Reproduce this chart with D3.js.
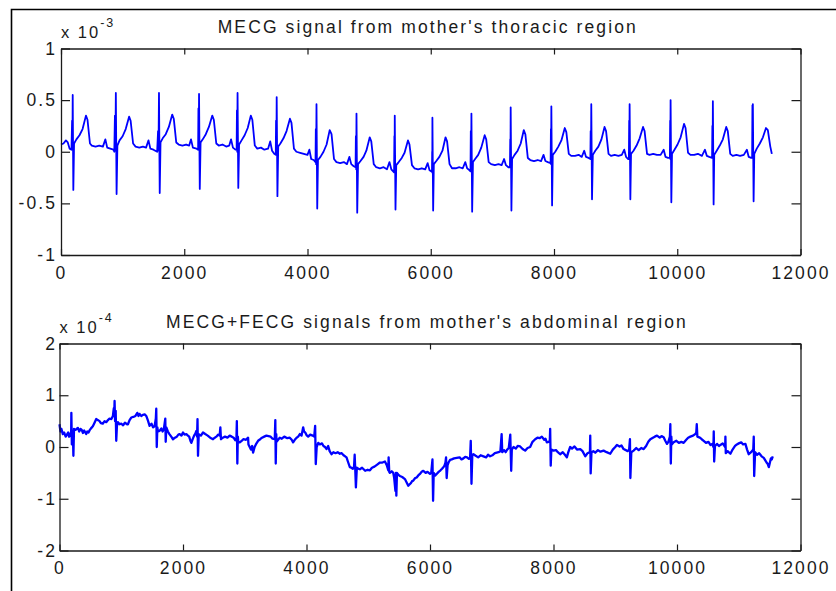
<!DOCTYPE html>
<html>
<head>
<meta charset="utf-8">
<script src="https://cdn.jsdelivr.net/npm/d3@7"></script>
<style>
  html, body { margin: 0; padding: 0; background: #fff; }
  svg { display: block; }
  text { font-family: "Liberation Sans", Arial, sans-serif; fill: #1a1a1a; }
</style>
</head>
<body>
<svg id="chart" width="836" height="591"></svg>
<script>
// ---------- DATA ----------
const xTicks = [0, 2000, 4000, 6000, 8000, 10000, 12000];
const topYTicks = [-1, -0.5, 0, 0.5, 1];
const botYTicks = [-2, -1, 0, 1, 2];
const topTitle = "MECG signal from mother's thoracic region";
const botTitle = "MECG+FECG signals from mother's abdominal region";
const topExponent = "-3";
const botExponent = "-4";

// thoracic MECG, sample index vs amplitude (x 10^-3)
const thoracic = [
[0,0.07],[40,0.08],[80,0.11],[110,0.09],[140,0.03],[170,0.02],[180,0.3],[185,0.02],
[190,0.55],[200,-0.37],[212,0.08],[250,0.12],[300,0.16],[350,0.22],[405,0.35],[430,0.31],[470,0.08],[500,0.06],[560,0.05],[620,0.06],[680,0.05],[720,0.12],[750,0.04],[800,0.03],[850,0.02],[865,0.0],[875,0.35],[882,0.01],
[890,0.57],[902,-0.41],[915,0.06],[950,0.11],[1000,0.15],[1050,0.22],[1105,0.34],[1130,0.30],[1170,0.08],[1210,0.05],[1270,0.04],[1330,0.05],[1380,0.04],[1420,0.11],[1450,0.03],[1500,0.02],[1560,0.0],[1575,0.2],[1582,0.01],
[1590,0.57],[1602,-0.40],[1615,0.09],[1650,0.13],[1700,0.17],[1750,0.24],[1805,0.36],[1830,0.32],[1870,0.09],[1910,0.07],[1970,0.06],[2030,0.07],[2080,0.06],[2110,0.12],[2140,0.04],[2200,0.03],[2225,0.02],[2230,0.42],[2235,0.02],
[2240,0.56],[2252,-0.36],[2265,0.09],[2300,0.12],[2350,0.17],[2400,0.24],[2455,0.35],[2480,0.31],[2520,0.08],[2560,0.06],[2620,0.07],[2680,0.05],[2730,0.06],[2760,0.12],[2790,0.04],[2830,0.02],[2850,0.02],[2855,0.4],[2860,0.0],
[2865,0.57],[2877,-0.35],[2890,0.07],[2930,0.11],[2980,0.16],[3030,0.23],[3080,0.35],[3105,0.31],[3145,0.06],[3185,0.03],[3245,0.04],[3300,0.02],[3360,0.03],[3395,0.1],[3425,0.01],[3460,-0.02],[3485,-0.03],[3490,0.3],[3495,-0.03],
[3500,0.53],[3512,-0.43],[3525,0.05],[3560,0.08],[3610,0.13],[3660,0.2],[3715,0.32],[3740,0.28],[3780,0.03],[3820,0.0],[3880,-0.01],[3940,-0.02],[4000,-0.03],[4030,0.02],[4060,-0.07],[4100,-0.08],[4130,-0.1],[4135,0.22],[4140,-0.12],
[4146,0.46],[4158,-0.55],[4170,-0.08],[4210,-0.05],[4260,0.0],[4310,0.07],[4360,0.21],[4390,0.17],[4430,-0.07],[4470,-0.1],[4530,-0.11],[4590,-0.1],[4640,-0.12],[4680,-0.05],[4710,-0.12],[4750,-0.14],[4780,-0.15],[4785,0.15],[4790,-0.17],
[4795,0.37],[4807,-0.59],[4820,-0.12],[4860,-0.09],[4910,-0.05],[4955,0.01],[5010,0.14],[5035,0.1],[5075,-0.12],[5115,-0.15],[5175,-0.16],[5235,-0.15],[5290,-0.17],[5330,-0.1],[5360,-0.17],[5390,-0.19],[5405,-0.2],[5410,0.15],[5413,-0.2],
[5416,0.35],[5428,-0.56],[5440,-0.13],[5480,-0.1],[5530,-0.06],[5575,-0.01],[5630,0.11],[5655,0.07],[5695,-0.13],[5735,-0.16],[5795,-0.17],[5855,-0.16],[5910,-0.17],[5950,-0.11],[5980,-0.18],[6010,-0.19],[6020,-0.18],[6023,0.0],[6025,-0.2],
[6027,0.33],[6039,-0.57],[6050,-0.12],[6090,-0.09],[6140,-0.05],[6190,0.01],[6240,0.14],[6265,0.1],[6305,-0.12],[6345,-0.16],[6405,-0.16],[6465,-0.15],[6520,-0.16],[6560,-0.1],[6590,-0.16],[6630,-0.18],[6645,-0.19],[6650,0.2],[6655,-0.18],
[6660,0.37],[6672,-0.58],[6685,-0.1],[6720,-0.07],[6770,-0.03],[6820,0.04],[6875,0.16],[6900,0.12],[6940,-0.1],[6980,-0.12],[7040,-0.13],[7100,-0.12],[7150,-0.13],[7190,-0.07],[7220,-0.13],[7260,-0.15],[7285,-0.15],[7290,0.12],[7293,-0.14],
[7297,0.43],[7309,-0.57],[7320,-0.07],[7360,-0.03],[7410,0.01],[7460,0.08],[7510,0.21],[7535,0.17],[7575,-0.06],[7615,-0.08],[7675,-0.09],[7735,-0.08],[7790,-0.09],[7830,-0.03],[7860,-0.09],[7900,-0.1],[7945,-0.11],[7950,0.22],[7953,-0.12],
[7957,0.44],[7969,-0.52],[7980,-0.03],[8020,0.0],[8070,0.05],[8120,0.11],[8175,0.23],[8200,0.19],[8240,-0.02],[8280,-0.04],[8340,-0.04],[8400,-0.03],[8450,-0.05],[8490,0.01],[8520,-0.05],[8560,-0.06],[8590,-0.07],[8595,0.2],[8600,-0.07],
[8605,0.46],[8617,-0.46],[8630,-0.03],[8670,0.01],[8720,0.05],[8770,0.12],[8820,0.24],[8845,0.2],[8885,-0.02],[8925,-0.04],[8985,-0.03],[9045,-0.04],[9100,-0.03],[9140,0.02],[9170,-0.05],[9200,-0.07],[9215,-0.07],[9220,0.3],[9223,-0.07],
[9227,0.46],[9239,-0.46],[9250,-0.02],[9290,0.01],[9340,0.06],[9390,0.13],[9445,0.24],[9470,0.2],[9510,-0.02],[9550,-0.03],[9610,-0.02],[9670,-0.03],[9730,-0.03],[9780,0.02],[9810,-0.05],[9850,-0.06],[9880,-0.06],[9885,0.3],[9888,-0.07],
[9892,0.50],[9904,-0.49],[9915,-0.02],[9955,0.02],[10005,0.07],[10055,0.14],[10110,0.27],[10135,0.23],[10175,-0.01],[10215,-0.03],[10275,-0.03],[10335,-0.02],[10400,-0.04],[10450,0.02],[10480,-0.04],[10520,-0.05],[10565,-0.06],[10570,0.25],[10574,-0.06],
[10578,0.49],[10590,-0.51],[10600,-0.03],[10640,0.01],[10690,0.06],[10740,0.12],[10795,0.24],[10820,0.2],[10860,-0.02],[10900,-0.04],[10960,-0.03],[11020,-0.04],[11080,-0.03],[11130,0.02],[11160,-0.05],[11200,-0.06],[11215,-0.06],[11220,0.45],[11223,-0.06],
[11227,0.46],[11239,-0.48],[11250,-0.02],[11290,0.03],[11340,0.08],[11390,0.14],[11440,0.23],[11470,0.21],[11510,0.05],[11535,-0.02]
];

// abdominal MECG+FECG, sample index vs amplitude (x 10^-4)
const abdominal = [
[0,0.44],[15,0.3],[30,0.35],[54,0.25],[75,0.28],[100,0.2],[120,0.24],[140,0.28],[155,0.2],[170,0.22],[189,0.3],[192,0.66],[200,0.05],[208,0.28],[216,0.3],[225,-0.17],[235,0.35],[260,0.33],[297,0.37],[320,0.3],[340,0.35],[360,0.33],[380,0.27],[400,0.32],[432,0.25],[450,0.3],[470,0.28],[486,0.32],[510,0.36],[540,0.4],[560,0.45],[595,0.54],[620,0.52],[649,0.5],[670,0.46],[700,0.45],[730,0.5],[757,0.48],[785,0.52],[810,0.55],[840,0.54],[865,0.6],[872,0.68],[880,0.75],[886,0.62],[892,0.89],[900,0.5],[910,0.7],[919,0.12],[930,0.4],[946,0.48],[975,0.44],[1000,0.45],[1030,0.42],[1060,0.47],[1090,0.44],[1108,0.44],[1135,0.52],[1162,0.57],[1195,0.58],[1230,0.6],[1260,0.66],[1280,0.6],[1297,0.64],[1325,0.6],[1350,0.62],[1380,0.63],[1405,0.6],[1430,0.52],[1459,0.41],[1490,0.45],[1515,0.38],[1540,0.4],[1560,0.55],[1567,0.74],[1575,0.0],[1585,0.38],[1594,0.3],[1621,0.31],[1650,0.36],[1670,0.3],[1690,0.35],[1713,0.55],[1720,0.1],[1730,0.38],[1755,0.3],[1780,0.25],[1810,0.2],[1838,0.15],[1870,0.18],[1900,0.2],[1925,0.24],[1946,0.25],[1975,0.22],[2000,0.28],[2025,0.24],[2054,0.25],[2080,0.22],[2100,0.2],[2120,0.12],[2135,0.08],[2160,0.16],[2180,0.22],[2200,0.26],[2216,0.31],[2228,0.2],[2235,0.54],[2243,-0.17],[2255,0.25],[2290,0.22],[2324,0.28],[2360,0.25],[2400,0.22],[2440,0.18],[2486,0.15],[2515,0.18],[2540,0.2],[2570,0.24],[2594,0.22],[2605,0.38],[2615,0.15],[2645,0.18],[2680,0.2],[2720,0.18],[2756,0.22],[2790,0.2],[2820,0.18],[2845,0.13],[2865,0.15],[2872,0.5],[2880,-0.32],[2888,0.2],[2895,0.1],[2919,0.09],[2950,0.12],[2980,0.15],[3020,0.14],[3054,0.18],[3060,0.05],[3080,0.0],[3100,-0.05],[3120,0.02],[3135,-0.11],[3160,0.0],[3180,0.05],[3216,0.12],[3250,0.15],[3280,0.18],[3315,0.2],[3351,0.22],[3385,0.21],[3420,0.2],[3450,0.16],[3486,0.15],[3495,0.52],[3502,-0.32],[3510,0.25],[3515,0.1],[3540,0.14],[3567,0.18],[3600,0.16],[3640,0.2],[3690,0.17],[3729,0.18],[3760,0.14],[3783,0.09],[3810,0.14],[3840,0.18],[3865,0.2],[3892,0.25],[3920,0.22],[3946,0.38],[3960,0.3],[3980,0.28],[4000,0.23],[4027,0.2],[4060,0.24],[4100,0.22],[4125,0.2],[4140,0.41],[4150,-0.33],[4165,0.0],[4190,0.08],[4216,0.05],[4250,0.07],[4275,0.02],[4300,0.0],[4325,-0.04],[4351,0.02],[4375,-0.08],[4405,-0.14],[4435,-0.1],[4470,-0.12],[4505,-0.1],[4540,-0.13],[4570,-0.12],[4600,-0.16],[4625,-0.18],[4648,-0.2],[4670,-0.28],[4702,-0.39],[4725,-0.4],[4750,-0.42],[4770,-0.38],[4780,-0.15],[4790,-0.45],[4800,-0.78],[4815,-0.4],[4840,-0.42],[4864,-0.43],[4900,-0.4],[4950,-0.46],[4990,-0.44],[5027,-0.45],[5060,-0.4],[5100,-0.38],[5145,-0.34],[5189,-0.3],[5230,-0.3],[5270,-0.28],[5300,-0.35],[5324,-0.45],[5330,-0.2],[5340,-0.48],[5350,-0.5],[5380,-0.47],[5405,-0.5],[5420,-0.6],[5440,-0.85],[5448,-0.5],[5455,-0.94],[5465,-0.5],[5490,-0.54],[5513,-0.56],[5550,-0.58],[5594,-0.62],[5620,-0.68],[5648,-0.75],[5670,-0.72],[5690,-0.7],[5710,-0.66],[5729,-0.65],[5760,-0.6],[5784,-0.59],[5810,-0.55],[5837,-0.52],[5865,-0.48],[5892,-0.46],[5930,-0.5],[5960,-0.48],[6000,-0.52],[6020,-0.5],[6040,-0.24],[6050,-1.04],[6060,-0.5],[6085,-0.55],[6108,-0.52],[6140,-0.48],[6170,-0.45],[6195,-0.42],[6216,-0.39],[6235,-0.36],[6250,-0.3],[6260,-0.2],[6270,-0.6],[6285,-0.35],[6300,-0.3],[6325,-0.25],[6352,-0.24],[6390,-0.22],[6433,-0.21],[6480,-0.2],[6510,-0.24],[6541,-0.22],[6570,-0.19],[6600,-0.2],[6630,-0.23],[6649,-0.21],[6660,0.12],[6672,-0.71],[6685,-0.15],[6703,-0.14],[6740,-0.17],[6780,-0.2],[6820,-0.16],[6865,-0.18],[6910,-0.2],[6940,-0.15],[6973,-0.18],[7010,-0.16],[7050,-0.12],[7081,-0.11],[7110,-0.1],[7140,-0.08],[7160,0.25],[7170,-0.1],[7200,-0.06],[7225,-0.1],[7250,-0.05],[7275,-0.02],[7300,0.24],[7315,-0.46],[7325,-0.05],[7352,0.0],[7390,-0.03],[7420,0.02],[7460,0.01],[7500,-0.04],[7541,-0.07],[7580,-0.02],[7622,0.0],[7660,0.1],[7703,0.15],[7740,0.18],[7775,0.17],[7811,0.2],[7850,0.14],[7870,0.16],[7892,0.09],[7920,0.1],[7940,0.12],[7946,0.35],[7955,-0.36],[7965,-0.05],[8000,-0.07],[8040,-0.06],[8070,-0.1],[8108,-0.14],[8150,-0.1],[8185,-0.15],[8216,-0.2],[8240,-0.1],[8270,0.0],[8300,-0.03],[8340,0.01],[8380,-0.05],[8433,-0.04],[8470,-0.08],[8514,-0.18],[8550,-0.12],[8590,-0.1],[8595,0.22],[8602,-0.51],[8615,-0.1],[8645,-0.08],[8676,-0.11],[8720,-0.06],[8760,-0.09],[8811,-0.07],[8860,-0.1],[8919,-0.13],[8960,-0.05],[9000,0.0],[9027,0.04],[9070,0.01],[9100,0.03],[9135,-0.04],[9170,-0.06],[9200,-0.08],[9225,-0.05],[9238,0.15],[9245,-0.6],[9260,-0.1],[9297,-0.07],[9340,-0.02],[9380,-0.06],[9420,-0.02],[9460,-0.04],[9500,0.02],[9535,0.1],[9568,0.15],[9610,0.18],[9640,0.2],[9676,0.22],[9720,0.18],[9750,0.21],[9784,0.19],[9810,0.12],[9838,0.06],[9860,0.1],[9885,0.2],[9892,0.44],[9900,-0.32],[9908,0.2],[9915,0.05],[9946,0.09],[9990,0.12],[10030,0.08],[10070,0.1],[10108,0.08],[10150,0.14],[10180,0.18],[10216,0.2],[10260,0.22],[10297,0.25],[10312,0.28],[10320,0.44],[10330,0.2],[10370,0.18],[10400,0.15],[10432,0.12],[10470,0.08],[10510,0.1],[10541,0.04],[10570,0.06],[10590,0.0],[10595,0.3],[10602,-0.28],[10615,0.02],[10650,0.06],[10680,0.02],[10703,0.04],[10740,0.07],[10780,0.0],[10784,0.2],[10790,-0.12],[10820,-0.08],[10865,-0.13],[10900,-0.05],[10940,0.02],[10970,0.05],[11000,0.07],[11040,0.09],[11070,0.05],[11108,0.06],[11135,-0.05],[11162,-0.14],[11200,-0.1],[11235,-0.05],[11243,0.2],[11250,-0.56],[11265,-0.1],[11297,-0.15],[11330,-0.12],[11370,-0.18],[11405,-0.21],[11430,-0.26],[11450,-0.3],[11470,-0.33],[11487,-0.39],[11505,-0.3],[11520,-0.22],[11535,-0.24],[11551,-0.18]
];

// ---------- DRAW ----------
const svg = d3.select("#chart");
const FS = 17.5, LS = 2.1;

// outer figure frame (top and left edges visible)
svg.append("path")
  .attr("d", "M11.5,591V9.5H836")
  .attr("fill", "none").attr("stroke", "#000").attr("stroke-width", 1.6);

function panel(cfg) {
  const x = d3.scaleLinear().domain([0, 12000]).range([cfg.left, cfg.right]);
  const y = d3.scaleLinear().domain(cfg.yDomain).range([cfg.bottom, cfg.top]);
  const g = svg.append("g");

  // signal
  g.append("path")
    .datum(cfg.data)
    .attr("fill", "none")
    .attr("stroke", "#0000ff")
    .attr("stroke-width", cfg.sw)
    .attr("stroke-linejoin", "round")
    .attr("d", d3.line().x(d => x(d[0])).y(d => y(d[1])));

  const styleAxis = sel => {
    sel.selectAll(".domain").attr("stroke", "#1a1a1a").attr("stroke-width", 1.3);
    sel.selectAll(".tick line").attr("stroke", "#1a1a1a").attr("stroke-width", 1.2);
    sel.selectAll("text")
      .attr("font-family", "'Liberation Sans', Arial, sans-serif")
      .attr("font-size", FS).attr("letter-spacing", LS).attr("fill", "#1a1a1a");
  };

  const gx = g.append("g").attr("transform", `translate(0,${cfg.bottom})`)
    .call(d3.axisBottom(x).tickValues(xTicks).tickSize(-6).tickSizeOuter(0).tickPadding(11.5).tickFormat(d3.format("d")));
  styleAxis(gx);
  const gxt = g.append("g").attr("transform", `translate(0,${cfg.top})`)
    .call(d3.axisTop(x).tickValues(xTicks).tickSize(-6).tickSizeOuter(0).tickFormat(""));
  styleAxis(gxt);
  const gy = g.append("g").attr("transform", `translate(${cfg.left},0)`)
    .call(d3.axisLeft(y).tickValues(cfg.yTicks).tickSize(-9).tickSizeOuter(0).tickPadding(cfg.ypad).tickFormat(d => String(d)));
  styleAxis(gy);
  const gyr = g.append("g").attr("transform", `translate(${cfg.right},0)`)
    .call(d3.axisRight(y).tickValues(cfg.yTicks).tickSize(-9).tickSizeOuter(0).tickFormat(""));
  styleAxis(gyr);
  gy.selectAll("text").attr("dx", LS);

  // title
  g.append("text")
    .attr("x", (cfg.left + cfg.right) / 2 - 3).attr("y", cfg.top - 15.5)
    .attr("text-anchor", "middle")
    .attr("font-size", FS).attr("letter-spacing", LS)
    .text(cfg.title);

  // exponent label
  const ex = g.append("text")
    .attr("x", cfg.left).attr("y", cfg.top - 10.5)
    .attr("font-size", 16.5).attr("letter-spacing", 2);
  ex.append("tspan").text("x 10");
  ex.append("tspan").attr("font-size", 12.5).attr("dy", -11.5).attr("dx", 0).text(cfg.exponent);
}

panel({ left: 61, right: 800.5, top: 48.5, bottom: 255, yDomain: [-1, 1], yTicks: topYTicks,
        data: thoracic, title: topTitle, exponent: topExponent, ypad: 6, sw: 1.8 });
panel({ left: 59.5, right: 800.5, top: 343.5, bottom: 550.5, yDomain: [-2, 2], yTicks: botYTicks,
        data: abdominal, title: botTitle, exponent: botExponent, ypad: 4.5, sw: 2.3 });
</script>
</body>
</html>
